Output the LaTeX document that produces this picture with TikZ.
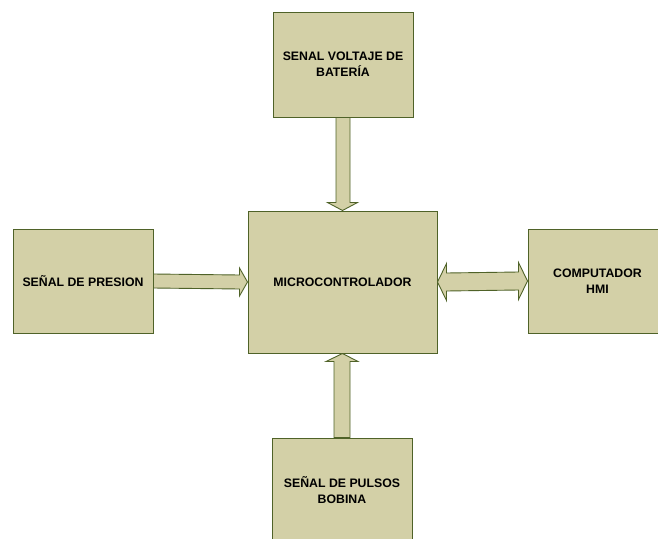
\documentclass[tikz,border=0pt]{standalone}
\usepackage{fontspec}
\setmainfont{Liberation Sans}
\usetikzlibrary{calc}
\definecolor{boxfill}{RGB}{211,208,167}
\definecolor{boxline}{RGB}{79,98,40}
\tikzset{
  blk/.style={draw=boxline, fill=boxfill, line width=1pt, inner sep=0pt,
    font=\fontsize{12.3}{16}\selectfont\bfseries, align=center, text=black},
  blockarrow/.style={draw=boxline, fill=boxfill, line width=0.9pt, line join=miter}
}
\begin{document}
\begin{tikzpicture}[x=1pt,y=-1pt]
\useasboundingbox (0,0) rectangle (658,538);
\node[blk, minimum width=189pt, minimum height=142pt] (mc) at (342.5,282) {MICROCONTROLADOR};
\node[blk, minimum width=140pt, minimum height=105pt] (vb) at (343,64.5) {SENAL VOLTAJE DE\\BATERÍA};
\node[blk, minimum width=140pt, minimum height=104pt] (sp) at (83,281) {SEÑAL DE PRESION};
\node[blk, minimum width=139pt, minimum height=104pt] (hmi) at (597.5,281) {COMPUTADOR\\HMI};
\node[blk, minimum width=140pt, minimum height=104pt] (bo) at (342,490) {SEÑAL DE PULSOS\\BOBINA};
% top arrow
\draw[blockarrow] ($(vb.south)+(-7,0)$) -- ($(mc.north)+(-6.5,-8)$) -- ($(mc.north)+(-15,-8)$) -- (mc.north)
  -- ($(mc.north)+(15,-8)$) -- ($(mc.north)+(7.5,-8)$) -- ($(vb.south)+(7,0)$) -- cycle;
% left arrow
\draw[blockarrow] ($(sp.east)+(0,-7)$) -- ($(mc.west)+(-8,-7)$) -- ($(mc.west)+(-8,-14)$) -- (mc.west)
  -- ($(mc.west)+(-8,14)$) -- ($(mc.west)+(-8,7)$) -- ($(sp.east)+(0,7)$) -- cycle;
% right double arrow
\draw[blockarrow] (mc.east) -- ($(mc.east)+(9,-18.5)$) -- ($(mc.east)+(9,-9)$) -- ($(hmi.west)+(-9,-9)$)
  -- ($(hmi.west)+(-9,-18.5)$) -- (hmi.west) -- ($(hmi.west)+(-9,18.5)$) -- ($(hmi.west)+(-9,9)$)
  -- ($(mc.east)+(9,9)$) -- ($(mc.east)+(9,18.5)$) -- cycle;
% bottom arrow
\draw[blockarrow] ($(bo.north)+(-8,0)$) -- ($(mc.south)+(-8.5,8)$) -- ($(mc.south)+(-16.5,8)$) -- (mc.south)
  -- ($(mc.south)+(15.5,8)$) -- ($(mc.south)+(7.5,8)$) -- ($(bo.north)+(8,0)$) -- cycle;
\end{tikzpicture}
\end{document}
